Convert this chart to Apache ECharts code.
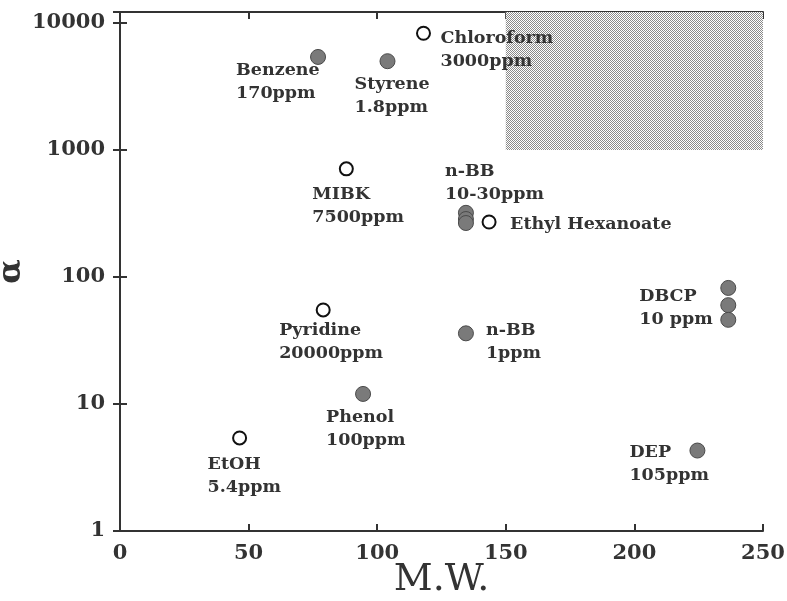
<!DOCTYPE html>
<html>
<head>
<meta charset="utf-8">
<script src="https://cdn.jsdelivr.net/npm/echarts@6/dist/echarts.min.js"></script>
<style>html,body{margin:0;padding:0;background:#fff;}#c{width:787px;height:601px;}</style>
</head>
<body>
<div id="c"></div>
<script>
// ---- data ----
const xTicks = [0, 50, 100, 150, 200, 250];
const yTicks = [1, 10, 100, 1000, 10000];
const filledMW    = [77, 104, 134.5, 134.5, 134.5, 236.5, 236.5, 236.5, 134.5, 94.5, 224.5];
const filledAlpha = [5400, 5000, 320, 286, 266, 82, 60, 46, 36, 12, 4.3];
const filledLabels = ['Benzene\n170ppm', 'Styrene\n1.8ppm', 'n-BB\n10-30ppm', '', '', '', 'DBCP\n10 ppm', '', 'n-BB\n1ppm', 'Phenol\n100ppm', 'DEP\n105ppm'];
const openMW    = [118, 88, 143.5, 79, 46.5];
const openAlpha = [8300, 710, 271, 55, 5.4];
const openLabels = ['Chloroform\n3000ppm', 'MIBK\n7500ppm', 'Ethyl Hexanoate', 'Pyridine\n20000ppm', 'EtOH\n5.4ppm'];
const shadeMW = [150, 250];
const shadeAlpha = [1000, 12200];

// ---- layout (label offsets from the point centre, px) ----
const filledOffsets = [[-82, 2], [-33, 12], [-21, -53], null, null, null, [-89, -20], null, [20, -14], [-37, 12], [-68, -10]];
const openOffsets = [[17, -6], [-34, 14], [21, -9], [-44, 9], [-32, 15]];

const FONT = '"DejaVu Serif", serif';
const TXT = '#333';

function pts(xs, ys, labels, offs) {
  return xs.map((x, i) => {
    const d = { value: [x, ys[i]] };
    if (labels[i]) {
      d.label = {
        show: true, formatter: labels[i], position: ['50%', '50%'], offset: offs[i],
        align: 'left', verticalAlign: 'top',
        fontFamily: FONT, fontWeight: 'bold', fontSize: 17.5, lineHeight: 23, color: TXT
      };
    }
    return d;
  });
}

const pc = document.createElement('canvas');
pc.width = 2; pc.height = 2;
const pctx = pc.getContext('2d');
pctx.fillStyle = '#ffffff'; pctx.fillRect(0, 0, 2, 2);
pctx.fillStyle = '#8a8a8a'; pctx.fillRect(0, 0, 1, 1); pctx.fillRect(1, 1, 1, 1);

const chart = echarts.init(document.getElementById('c'), null, { renderer: 'canvas' });
const axisLine = { show: true, lineStyle: { color: '#333', width: 2 } };
const tickStyle = { show: true, inside: true, length: 7, lineStyle: { color: '#333', width: 2 } };
const labelStyle = { fontFamily: FONT, fontWeight: 'bold', fontSize: 21, color: TXT };
const yFmt = v => (yTicks.indexOf(Math.round(v)) >= 0 && Math.abs(v - Math.round(v)) < 1e-6) ? String(Math.round(v)) : '';

chart.setOption({
  animation: false,
  backgroundColor: '#fff',
  grid: { left: 120, right: 24, top: 12, bottom: 70, containLabel: false, outerBoundsMode: 'none' },
  xAxis: [
    {
      type: 'value', min: xTicks[0], max: xTicks[xTicks.length - 1], interval: 50,
      position: 'bottom', axisLine: axisLine, axisTick: tickStyle,
      axisLabel: Object.assign({ margin: 12 }, labelStyle),
      splitLine: { show: false },
      name: 'M.W.', nameLocation: 'middle', nameGap: 30, nameMoveOverlap: false,
      nameTextStyle: { fontFamily: FONT, fontSize: 38, color: TXT }
    },
    {
      type: 'value', min: xTicks[0], max: xTicks[xTicks.length - 1], interval: 50,
      position: 'top', axisLine: axisLine, axisTick: tickStyle,
      axisLabel: { show: false }, splitLine: { show: false }
    }
  ],
  yAxis: [
    {
      type: 'log', logBase: 10, min: yTicks[0], max: shadeAlpha[1],
      position: 'left', axisLine: axisLine, axisTick: tickStyle,
      axisLabel: Object.assign({ margin: 15, formatter: yFmt }, labelStyle),
      splitLine: { show: false }, minorTick: { show: false },
      name: 'α', nameLocation: 'middle', nameGap: 92, nameMoveOverlap: false,
      nameTextStyle: { fontFamily: FONT, fontSize: 32, fontWeight: 'bold', color: TXT }
    },
    {
      type: 'log', logBase: 10, min: yTicks[0], max: shadeAlpha[1],
      position: 'right', axisLine: axisLine, axisTick: tickStyle,
      axisLabel: { show: false }, splitLine: { show: false }
    }
  ],
  series: [
    {
      type: 'scatter', xAxisIndex: 0, yAxisIndex: 0, data: [], silent: true,
      markArea: {
        silent: true,
        itemStyle: { color: { image: pc, repeat: 'repeat' }, opacity: 1 },
        data: [[{ xAxis: shadeMW[0], yAxis: shadeAlpha[0] }, { xAxis: shadeMW[1], yAxis: shadeAlpha[1] }]]
      }
    },
    {
      type: 'scatter', name: 'filled', symbol: 'circle', symbolSize: 15,
      itemStyle: { color: '#7a7a7a', borderColor: '#4a4a4a', borderWidth: 1, opacity: 1 },
      data: pts(filledMW, filledAlpha, filledLabels, filledOffsets), z: 3
    },
    {
      type: 'scatter', name: 'open', symbol: 'circle', symbolSize: 13,
      itemStyle: { color: '#ffffff', borderColor: '#111', borderWidth: 2, opacity: 1 },
      data: pts(openMW, openAlpha, openLabels, openOffsets), z: 3
    }
  ]
});
</script>
</body>
</html>
